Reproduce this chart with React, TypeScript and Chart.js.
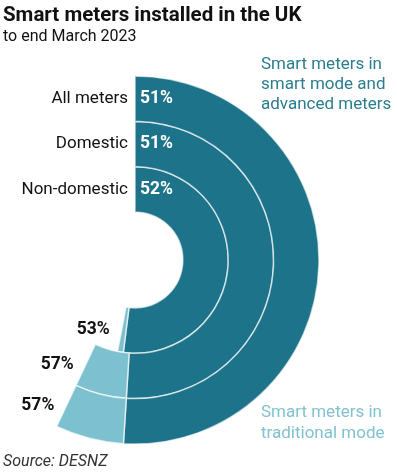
import React, { useEffect, useRef } from "react";
import { Chart, registerables } from "chart.js";
Chart.register(...registerables);

const categories = ["All meters", "Domestic", "Non-domestic"];
const smartModePct = [51, 51, 52];
const totalPct = [57, 57, 53];

const titleText = "Smart meters installed in the UK";
const subtitleText = "to end March 2023";
const legendSmart = ["Smart meters in", "smart mode and", "advanced meters"];
const legendTraditional = ["Smart meters in", "traditional mode"];
const sourceText = "Source: DESNZ";

const DARK = "#1d7389";
const LIGHT = "#7dc1d0";
const FONT = "Roboto, 'Noto Sans', sans-serif";

export default function App() {
  const ref = useRef<HTMLCanvasElement>(null);
  useEffect(() => {
    const traditional = totalPct.map((t, i) => t - smartModePct[i]);
    const datasets = categories.map((c, i) => ({
      label: c,
      data: [smartModePct[i], traditional[i], 100 - totalPct[i]],
      backgroundColor: [DARK, LIGHT, "rgba(0,0,0,0)"],
      borderColor: "rgba(255,255,255,0.65)",
      borderWidth: [1.5, 1.5, 0],
    }));
    const labelPlugin = {
      id: "labels",
      afterDraw(chart: any) {
        const ctx = chart.ctx as CanvasRenderingContext2D;
        ctx.save();
        ctx.textAlign = "left";
        ctx.textBaseline = "alphabetic";
        ctx.fillStyle = "#111";
        ctx.font = `bold 20.5px ${FONT}`;
        ctx.fillText(titleText, 3, 21);
        ctx.font = `16px ${FONT}`;
        ctx.fillText(subtitleText, 3, 41);
        ctx.font = `17px ${FONT}`;
        ctx.fillStyle = "#2b7e8f";
        legendSmart.forEach((t, i) => ctx.fillText(t, 261, 69 + i * 20));
        ctx.fillStyle = "#82c2cf";
        legendTraditional.forEach((t, i) => ctx.fillText(t, 261, 417 + i * 21));
        ctx.font = `italic 16px ${FONT}`;
        ctx.fillStyle = "#333";
        ctx.fillText(sourceText, 3, 466);
        categories.forEach((c, i) => {
          const meta = chart.getDatasetMeta(i);
          const darkArc = meta.data[0];
          const lightArc = meta.data[1];
          const { x, y, innerRadius, outerRadius } = darkArc.getProps(
            ["x", "y", "innerRadius", "outerRadius"], true
          );
          const r = (innerRadius + outerRadius) / 2;
          ctx.textBaseline = "middle";
          ctx.textAlign = "right";
          ctx.fillStyle = "#111";
          ctx.font = `17px ${FONT}`;
          ctx.fillText(c, x - 7, y - r);
          ctx.textAlign = "left";
          ctx.fillStyle = "#fff";
          ctx.font = `bold 17.5px ${FONT}`;
          ctx.fillText(`${smartModePct[i]}%`, x + 5, y - r);
          const { endAngle } = lightArc.getProps(["endAngle"], true);
          const px = x + r * Math.cos(endAngle);
          const py = y + r * Math.sin(endAngle);
          ctx.textAlign = "right";
          ctx.fillStyle = "#111";
          ctx.fillText(`${totalPct[i]}%`, px - 12, py);
        });
        ctx.restore();
      },
    };
    const chart = new Chart(ref.current!, {
      type: "doughnut",
      data: { labels: ["Smart mode", "Traditional mode", ""], datasets: datasets as any },
      options: {
        animation: false,
        responsive: false,
        events: [],
        rotation: 0,
        circumference: 360,
        radius: 184,
        cutout: "26%",
        layout: { padding: { left: 0, right: 127, top: 44, bottom: 0 } },
        plugins: {
          legend: { display: false },
          tooltip: { enabled: false },
        },
      } as any,
      plugins: [labelPlugin],
    });
    return () => chart.destroy();
  }, []);
  return (
    <div
      style={{
        position: "absolute",
        left: 0,
        top: 0,
        width: 397,
        height: 476,
        background: "#fff",
        overflow: "hidden",
      }}
    >
      <canvas ref={ref} width={397} height={476} style={{ display: "block" }} />
    </div>
  );
}
